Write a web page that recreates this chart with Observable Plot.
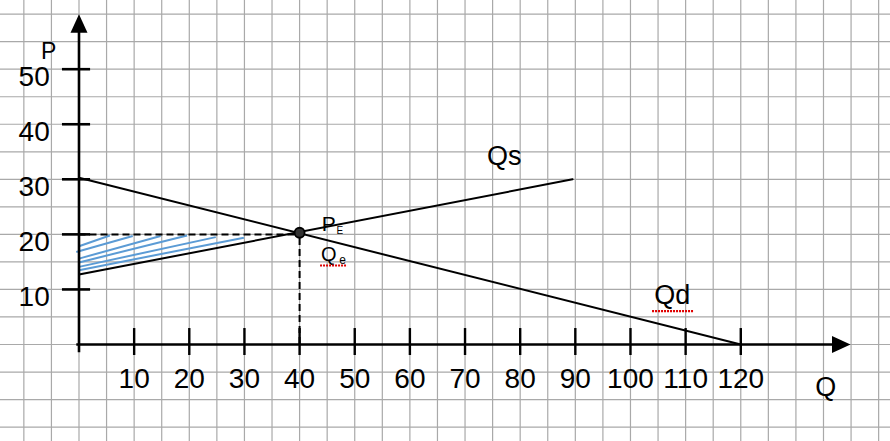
<!DOCTYPE html>
<html>
<head>
<meta charset="utf-8">
<script src="https://cdn.jsdelivr.net/npm/d3@7"></script>
<script src="https://cdn.jsdelivr.net/npm/@observablehq/plot@0.6"></script>
<style>
  html, body { margin: 0; padding: 0; background: #fff; }
  #chart svg { display: block; }
</style>
</head>
<body>
<div id="chart"></div>
<script>
// ---- data ----
const demandQ = [0, 120];
const demandP = [30.3, 0];
const supplyQ = [0, 89.5];
const supplyP = [12.7, 30];
const eqQ = [40];
const eqP = [20.3];
const priceLevel = [20];   // horizontal dashed guide
const quantityLevel = [40]; // vertical dashed guide

const xTicks = [10, 20, 30, 40, 50, 60, 70, 80, 90, 100, 110, 120];
const xTickLabels = ["10", "20", "30", "40", "50", "60", "70", "80", "90", "100", "110", "120"];
const yTicks = [10, 20, 30, 40, 50];
const yTickLabels = ["10", "20", "30", "40", "50"];

// blue hatch strokes (producer surplus)
const hatchQ1 = [0, -0.5, 0, 0, 0, 0];
const hatchP1 = [17.85, 16.8, 15.6, 14.9, 14.1, 13.5];
const hatchQ2 = [5.6, 9.75, 14.8, 19.6, 24.8, 29.9];
const hatchP2 = [19.8, 19.7, 19.7, 19.8, 19.5, 19.4];

// ---- tables built from the arrays ----
const demand = demandQ.map((q, i) => ({q, p: demandP[i]}));
const supply = supplyQ.map((q, i) => ({q, p: supplyP[i]}));
const eq = eqQ.map((q, i) => ({q, p: eqP[i]}));
const hatch = hatchQ1.map((q, i) => ({q1: q, p1: hatchP1[i], q2: hatchQ2[i], p2: hatchP2[i]}));
const gridQ = d3.range(-10, 150, 5);
const gridP = d3.range(-15, 65, 5);

const font = "Liberation Sans, Arial, sans-serif";
const arrowUp = {
  draw(ctx) { ctx.moveTo(0, 0); ctx.lineTo(-8.5, 18.5); ctx.lineTo(8.5, 18.5); ctx.closePath(); }
};

const chart = Plot.plot({
  width: 890,
  height: 441,
  margin: 0,
  x: {domain: [-14.234, 147.15], axis: null},
  y: {domain: [-17.617, 62.477], axis: null},
  style: {background: "#fff", overflow: "visible"},
  marks: [
    // graph paper
    Plot.ruleX(gridQ, {stroke: "#a9a9a9", strokeWidth: 1.2}),
    Plot.ruleY(gridP, {stroke: "#a9a9a9", strokeWidth: 1.2}),
    // producer surplus hatch
    Plot.link(hatch, {x1: "q1", y1: "p1", x2: "q2", y2: "p2", stroke: "#5b9bd5", strokeWidth: 2}),
    // axes
    Plot.ruleX([0], {y1: -1.5, y2: 57, stroke: "#000", strokeWidth: 2.6}),
    Plot.ruleY([0], {x1: -0.4, x2: 137, stroke: "#000", strokeWidth: 2.6}),
    Plot.dot([0], {x: 0, y: 60, symbol: arrowUp, fill: "#000", stroke: "none", r: 5}),
    Plot.dot([0], {x: 139.9, y: 0, symbol: arrowUp, fill: "#000", stroke: "none", r: 5, rotate: 90}),
    Plot.ruleX(xTicks, {x: d => d, y1: -2, y2: 2.9, stroke: "#000", strokeWidth: 2.4}),
    Plot.ruleY(yTicks, {y: d => d, x1: -3, x2: 2.1, stroke: "#000", strokeWidth: 2.6}),
    // guides
    Plot.ruleY(priceLevel, {y: d => d, x1: 0, x2: 40, stroke: "#000", strokeWidth: 2, strokeDasharray: "7,4"}),
    Plot.ruleX(quantityLevel, {x: d => d, y1: 0, y2: 20, stroke: "#000", strokeWidth: 2, strokeDasharray: "7,4"}),
    // curves
    Plot.line(demand, {x: "q", y: "p", stroke: "#000", strokeWidth: 2}),
    Plot.line(supply, {x: "q", y: "p", stroke: "#000", strokeWidth: 2}),
    Plot.dot(eq, {x: "q", y: "p", r: 5, fill: "#333", stroke: "#000", strokeWidth: 1.8}),
    // tick labels
    Plot.text(xTicks, {x: d => d, y: 0, text: xTickLabels, dy: 34.5, fontSize: 28, fontFamily: font, fill: "#000"}),
    Plot.text(yTicks, {x: -5.3, y: d => d, text: yTickLabels, textAnchor: "end", dy: 8, fontSize: 28, fontFamily: font, fill: "#000"}),
    // axis titles
    Plot.text(["P"], {x: -5.5, y: 53.2, fontSize: 23, fontFamily: font, fill: "#000"}),
    Plot.text(["Q"], {x: 135.4, y: -7.7, fontSize: 27, fontFamily: font, fill: "#000"}),
    // curve labels
    Plot.text(["Qs"], {x: 74.0, y: 34.1, textAnchor: "start", fontSize: 27, fontFamily: font, fill: "#000"}),
    Plot.text(["Qd"], {x: 104.3, y: 8.9, textAnchor: "start", fontSize: 27, fontFamily: font, fill: "#000"}),
    Plot.text(["P"], {x: 44.0, y: 21.8, textAnchor: "start", fontSize: 21, fontFamily: font, fill: "#000"}),
    Plot.text(["E"], {x: 47.3, y: 20.6, fontSize: 10, fontFamily: font, fill: "#000"}),
    Plot.text(["Q"], {x: 43.9, y: 16.4, textAnchor: "start", fontSize: 20, fontFamily: font, fill: "#000"}),
    Plot.text(["e"], {x: 47.8, y: 15.3, fontSize: 12, fontFamily: font, fill: "#000"}),
    // spell-check squiggles
    Plot.ruleY([14.35], {x1: 43.8, x2: 48.7, stroke: "#e00000", strokeWidth: 2.2, strokeDasharray: "2,1"}),
    Plot.ruleY([6.05], {x1: 104.0, x2: 111.6, stroke: "#e00000", strokeWidth: 2.2, strokeDasharray: "2,1"})
  ]
});
document.getElementById("chart").append(chart);
</script>
</body>
</html>
